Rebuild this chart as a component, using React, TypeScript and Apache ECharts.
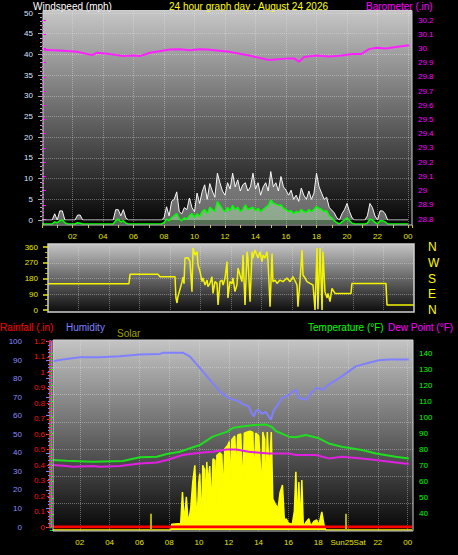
import React, { useEffect, useRef } from 'react';
import * as echarts from 'echarts';

const FONT = '"Liberation Sans", Arial, sans-serif';

// ---------- top panel: wind speed (mph), one value every 10 minutes from 00:00 ----------
const windStepHours = 1 / 6;
const windGust = [
  0, 0, 0, 0, 0, 1.5, 0, 2.2, 2.2, 0,
  0, 0, 0, 0, 1.2, 1.2, 0, 0, 0, 0,
  0, 0, 0, 0, 0, 0, 0, 0, 0, 2.5,
  2.5, 1, 2.5, 0.5, 0, 0, 0, 0, 0, 0,
  0, 0, 0, 0, 0, 0, 0, 0, 0.5, 3.2,
  1, 4.5, 5, 6.8, 2, 1.5, 3, 2.5, 5.3, 3,
  2, 6.5, 4, 6.8, 8.5, 5, 8.8, 7, 5.5, 11.3,
  9, 7, 6, 9, 7.5, 11.3, 8, 9.7, 7, 8.5,
  9, 7, 8, 11.3, 7.5, 9, 6, 8, 9, 7,
  11.7, 8, 9, 7, 10.5, 8, 7.2, 6, 7.2, 5,
  6, 4.5, 7.7, 6, 5, 7, 5, 6.5, 11.3, 8,
  6.5, 5, 5.5, 3, 2.4, 1.7, 0.5, 0, 1.5, 2.5,
  4, 2, 0.5, 0, 0, 0, 0, 0, 1, 4,
  3, 1, 0, 2.2, 2.2, 1.5, 0, 0, 0, 0,
  0, 0, 0, 0, 0,
];
const windAvg = [
  0, 0, 0, 0, 0, 0.5, 0.3, 0.8, 1, 0.3,
  0, 0, 0, 0, 0.3, 0.2, 0, 0, 0, 0,
  0, 0, 0, 0, 0, 0, 0, 0, 0, 0.8,
  1.2, 0.5, 0.8, 0.2, 0, 0, 0, 0, 0, 0,
  0, 0, 0, 0, 0, 0, 0, 0, 0.3, 1.2,
  0.8, 1.5, 2, 2.5, 1.2, 0.8, 1.5, 1.2, 2, 2.5,
  1.5, 2.5, 1.8, 3, 3.5, 2.5, 4, 3.5, 3, 5.4,
  4.5, 3.5, 3, 4, 3.2, 4.5, 3.5, 4, 3, 3.5,
  4.6, 3.5, 3.8, 4, 3.2, 3.8, 3, 3.5, 4, 4.5,
  5.8, 5, 4.8, 4.5, 4.6, 3.8, 3.5, 3, 3.2, 2.5,
  3, 2.8, 3.5, 3, 2.8, 3.5, 3, 3.5, 4.2, 3.8,
  3.5, 3, 3.2, 2, 1.5, 0.8, 0.3, 0, 0.5, 1,
  1.5, 0.8, 0.2, 0, 0, 0, 0, 0, 0.2, 1.2,
  1, 0.4, 0, 0.8, 0.8, 0.5, 0, 0, 0, 0,
  0, 0, 0, 0, 0,
];

// barometer (inHg)
const baroHours = [0.07, 1.38, 2.3, 3.28, 3.6, 4.46, 5.3, 5.97, 6.43, 7.08, 8.39, 9.05, 9.7, 10.36, 10.82, 12.26, 13.57, 14.89, 16.2, 16.52, 16.85, 17.18, 17.97, 18.82, 19.67, 20.33, 20.92, 21.44, 21.9, 22.56, 23.21, 24.07];
const baroValues = [29.99, 29.984, 29.977, 29.953, 29.97, 29.96, 29.946, 29.95, 29.946, 29.97, 29.993, 29.995, 29.988, 29.995, 29.993, 29.977, 29.95, 29.918, 29.93, 29.93, 29.906, 29.94, 29.95, 29.943, 29.95, 29.96, 29.96, 29.995, 30.005, 30.0, 30.01, 30.023];

// ---------- middle panel: wind direction (degrees) ----------
const dirHours = [0, 5.31, 5.38, 7.21, 7.34, 8.33, 8.39, 8.46, 8.52, 8.66, 8.79, 8.85, 8.92, 8.98, 9.18, 9.31, 9.44, 9.51, 9.64, 9.77, 9.84, 9.97, 10.1, 10.16, 10.3, 10.43, 10.49, 10.62, 10.75, 10.82, 10.95, 11.08, 11.15, 11.28, 11.41, 11.48, 11.61, 11.74, 11.8, 11.93, 12.07, 12.13, 12.26, 12.39, 12.46, 12.59, 12.72, 12.79, 12.92, 13.05, 13.11, 13.25, 13.38, 13.44, 13.57, 13.7, 13.77, 13.9, 14.03, 14.1, 14.23, 14.36, 14.43, 14.56, 14.69, 14.75, 14.89, 15.02, 15.21, 15.41, 15.67, 15.87, 16.07, 16.33, 16.39, 16.52, 16.66, 16.72, 16.85, 16.98, 17.18, 17.38, 17.51, 17.64, 17.7, 17.84, 17.97, 18.03, 18.16, 18.3, 18.36, 18.49, 18.62, 18.82, 19.87, 19.93, 22.16, 22.23, 24];
const dirValues = [150, 150, 205, 205, 190, 190, 69, 40, 76, 120, 162, 188, 150, 297, 299, 276, 105, 354, 314, 333, 257, 219, 162, 183, 143, 171, 133, 152, 190, 95, 162, 152, 29, 162, 171, 143, 183, 276, 69, 162, 150, 183, 105, 143, 240, 200, 162, 314, 29, 333, 297, 48, 333, 297, 343, 314, 297, 333, 276, 314, 297, 333, 276, 19, 323, 162, 171, 152, 171, 162, 183, 162, 190, 143, 19, 162, 343, 200, 183, 162, 152, 143, 0, 354, 5, 354, 0, 333, 105, 69, 95, 48, 124, 95, 95, 152, 152, 29, 29];
const dirRightLabels: Record<number, string> = { 0: 'N', 90: 'E', 180: 'S', 270: 'W', 360: 'N' };

// ---------- bottom panel ----------
const humHours = [0.19, 0.86, 2.0, 3.34, 4.68, 6.03, 7.37, 7.57, 8.91, 9.38, 10.05, 10.72, 11.4, 12.0, 12.67, 13.0, 13.34, 13.5, 13.68, 13.85, 14.01, 14.2, 14.48, 14.65, 14.82, 15.02, 15.3, 15.56, 16.0, 16.3, 16.5, 16.7, 17.17, 17.5, 17.9, 18.3, 18.71, 19.58, 20.52, 21.4, 22.07, 22.74, 24.08];
const humValues = [89.4, 90.3, 91.5, 91.5, 92, 93, 93.3, 93.9, 94, 92, 85.8, 79.5, 73, 69.5, 67.7, 66, 65, 62, 59.6, 63, 63, 61, 62, 60, 57.8, 63, 66, 69.5, 71, 73, 74, 69.5, 68.6, 72, 75, 74, 76.8, 81.2, 86.6, 88.5, 89.9, 90.3, 90.3];

const tempHours = [0.19, 1.1, 2.88, 4.89, 6.03, 7.17, 7.84, 8.71, 10.05, 10.92, 11.86, 12.3, 13.0, 13.7, 14.5, 14.9, 15.15, 16.03, 16.5, 17.17, 18.04, 18.71, 19.58, 20.93, 21.87, 23.2, 24.08];
const tempValues = [73.5, 73, 72.4, 72.9, 75.2, 75.5, 77.2, 78.6, 82.8, 88, 91, 93.5, 94.5, 95.2, 95.5, 94, 91.5, 88, 87.6, 89, 87, 83.8, 81.7, 79.7, 77.6, 75.5, 74.5];

const dewHours = [0.19, 1.1, 1.53, 2.88, 3.34, 4.68, 6.03, 7.17, 7.84, 8.91, 10.05, 10.92, 11.86, 12.5, 13.34, 14.68, 16.03, 16.5, 17.84, 18.71, 19.58, 20.93, 22.27, 23.2, 24.08];
const dewValues = [70.4, 69.8, 69.3, 69.8, 69.3, 69.8, 71.4, 72, 73.5, 76.6, 78, 78.6, 80, 80, 78.6, 77.6, 77.6, 76.6, 76.6, 74.5, 75.5, 74.5, 73, 72, 71];

const solarHours = [0.2, 8.11, 8.17, 8.77, 8.89, 9.01, 9.15, 9.28, 9.45, 9.58, 9.72, 9.85, 9.98, 10.05, 10.19, 10.25, 10.38, 10.45, 10.52, 10.59, 10.72, 10.83, 10.94, 11.07, 11.13, 11.2, 11.4, 11.53, 11.63, 11.73, 11.93, 12.03, 12.13, 12.2, 12.4, 12.5, 12.6, 12.8, 12.94, 13.04, 13.2, 13.41, 13.61, 13.7, 13.81, 14.01, 14.21, 14.28, 14.41, 14.47, 14.58, 14.72, 14.85, 14.95, 15.1, 15.3, 15.44, 15.6, 15.73, 15.85, 15.99, 16.26, 16.4, 16.5, 16.6, 16.7, 16.8, 16.9, 17.0, 17.17, 17.37, 17.5, 17.7, 17.9, 18.04, 18.24, 18.38, 18.5, 24.3];
const solarValues = [0, 0, 30, 35, 202, 40, 176, 30, 120, 255, 344, 20, 250, 300, 15, 344, 320, 60, 362, 250, 340, 120, 379, 370, 90, 397, 410, 400, 180, 432, 450, 470, 200, 480, 500, 300, 505, 510, 220, 515, 520, 525, 520, 250, 515, 500, 200, 521, 480, 150, 521, 300, 521, 166, 140, 113, 200, 239, 48, 60, 37, 30, 100, 309, 20, 255, 20, 266, 15, 40, 60, 20, 45, 53, 25, 96, 30, 0, 0];
const sunEventHours = [6.74, 19.85];
const sunEventLevel = 87;

const rainHours = [0.19, 24.3];
const rainValues = [0, 0];

const topHourLabels = ['02', '04', '06', '08', '10', '12', '14', '16', '18', '20', '22', '00'];
const bottomHourLabels = ['02', '04', '06', '08', '10', '12', '14', '16', '18', 'Sun25Sat', '22', '00'];

const zip = (xs: number[], ys: number[]) => xs.map((x, i) => [x, ys[i]]);
const hourFmt = (labels: string[]) => (v: number) => {
  const r = Math.round(v);
  if (Math.abs(v - r) > 1e-6 || r % 2 !== 0 || r < 2 || r > 24) return '';
  return labels[r / 2 - 1];
};
const decFmt = (v: number) => String(Math.round(v * 10) / 10);

const GRIDC = 'rgba(235,235,235,0.38)';
const grad = (a: string, b: string, c: string) => ({
  type: 'linear', x: 0, y: 0, x2: 0, y2: 1,
  colorStops: [{ offset: 0, color: a }, { offset: 0.5, color: b }, { offset: 1, color: c }],
});

function buildOption(): any {
  const hidden = (gridIndex: number, max: number) => ({ gridIndex, type: 'value', min: 0, max, show: false });
  const TOPMAX = 24.26;
  const BOTMAX = 24.36;
  return {
    backgroundColor: '#000',
    animation: false,
    textStyle: { fontFamily: FONT },
    grid: [
      { left: 42, width: 370, top: 11, height: 214 }, // 0 top frame
      { left: 42, width: 370, top: 13, height: 207 }, // 1 wind gust
      { left: 42, width: 370, top: 17, height: 207 }, // 2 wind avg
      { left: 42, width: 370, top: 20, height: 199 }, // 3 barometer
      { left: 48, width: 366, top: 247, height: 63 }, // 4 direction
      { left: 50, width: 363, top: 340, height: 191 }, // 5 bottom frame
      { left: 50, width: 363, top: 341.5, height: 185.5 }, // 6 humidity / rain
      { left: 50, width: 363, top: 353, height: 177 }, // 7 temp / dew
      { left: 50, width: 363, top: 340, height: 190 }, // 8 solar
    ],
    xAxis: [
      {
        gridIndex: 0, type: 'value', min: 0, max: TOPMAX, interval: 2,
        axisLine: { show: false },
        axisTick: { show: true, length: 3, lineStyle: { color: '#c8c800' } },
        minorTick: { show: true, splitNumber: 2, length: 3, lineStyle: { color: '#c8c800' } },
        axisLabel: { color: '#e4e400', fontSize: 8, margin: 7, formatter: hourFmt(topHourLabels), fontFamily: FONT },
        splitLine: { show: true, showMinLine: false, showMaxLine: false, lineStyle: { type: 'dotted', color: GRIDC } },
      },
      hidden(1, TOPMAX),
      hidden(2, TOPMAX),
      hidden(3, TOPMAX),
      {
        gridIndex: 4, type: 'value', min: 0, max: 24, interval: 2,
        axisLine: { show: false }, axisTick: { show: false }, axisLabel: { show: false },
        splitLine: { show: true, showMinLine: false, showMaxLine: false, lineStyle: { type: 'dotted', color: GRIDC } },
      },
      {
        gridIndex: 5, type: 'value', min: 0, max: BOTMAX, interval: 2,
        axisLine: { show: false }, axisTick: { show: false },
        axisLabel: { color: '#e4e400', fontSize: 8, margin: 7, formatter: hourFmt(bottomHourLabels), fontFamily: FONT },
        splitLine: { show: true, showMinLine: false, showMaxLine: false, lineStyle: { type: 'dotted', color: GRIDC } },
      },
      hidden(6, BOTMAX),
      hidden(7, BOTMAX),
      hidden(8, BOTMAX),
    ],
    yAxis: [
      { gridIndex: 0, type: 'value', min: 0, max: 1, show: false },
      {
        gridIndex: 1, type: 'value', min: 0, max: 50, interval: 5, position: 'left',
        axisLine: { show: false },
        axisTick: { show: true, length: 4, lineStyle: { color: '#a8a8a8' } },
        minorTick: { show: true, splitNumber: 5, length: 2, lineStyle: { color: '#a8a8a8' } },
        axisLabel: { color: '#d8e4ff', fontSize: 8, margin: 9, fontFamily: FONT },
        splitLine: { show: true, showMinLine: false, lineStyle: { type: 'dotted', color: GRIDC } },
      },
      { gridIndex: 2, type: 'value', min: 0, max: 50, show: false },
      {
        gridIndex: 3, type: 'value', min: 28.8, max: 30.2, interval: 0.1, position: 'right',
        axisLine: { show: false },
        axisTick: { show: true, length: 4, lineStyle: { color: '#ff00ff' } },
        minorTick: { show: true, splitNumber: 4, length: 2, lineStyle: { color: '#ff00ff' } },
        axisLabel: { color: '#ff00ff', fontSize: 8, margin: 6, formatter: decFmt, fontFamily: FONT },
        splitLine: { show: false },
      },
      {
        gridIndex: 4, type: 'value', min: 0, max: 360, interval: 90, position: 'left',
        axisLine: { show: false },
        axisTick: { show: true, length: 5, lineStyle: { color: '#b0b000', width: 2 } },
        minorTick: { show: true, splitNumber: 3, length: 3, lineStyle: { color: '#b0b000' } },
        axisLabel: { color: '#e8e800', fontSize: 8, margin: 10, fontFamily: FONT },
        splitLine: { show: true, showMinLine: false, showMaxLine: false, lineStyle: { type: 'dotted', color: GRIDC } },
      },
      {
        gridIndex: 4, type: 'value', min: 0, max: 360, interval: 90, position: 'right',
        axisLine: { show: false }, axisTick: { show: false }, splitLine: { show: false },
        axisLabel: { color: '#ffff00', fontSize: 12, margin: 14, fontFamily: FONT, formatter: (v: number) => dirRightLabels[v] ?? '' },
      },
      {
        gridIndex: 5, type: 'value', min: 0, max: 7, interval: 1,
        axisLine: { show: false }, axisTick: { show: false }, axisLabel: { show: false },
        splitLine: { show: true, showMinLine: false, showMaxLine: false, lineStyle: { type: 'dotted', color: GRIDC } },
      },
      {
        gridIndex: 6, type: 'value', min: 0, max: 100, interval: 10, position: 'left', offset: 20,
        axisLine: { show: true, lineStyle: { color: '#8080ff', width: 3 } },
        axisTick: { show: true, length: 4, lineStyle: { color: '#8080ff' } },
        minorTick: { show: true, splitNumber: 5, length: 2, lineStyle: { color: '#8080ff' } },
        axisLabel: { color: '#8c8cff', fontSize: 8, margin: 8, fontFamily: FONT },
        splitLine: { show: false },
      },
      {
        gridIndex: 6, type: 'value', min: 0, max: 1.2, interval: 0.1, position: 'left', offset: 0,
        axisLine: { show: true, lineStyle: { color: '#ff2020', width: 2, type: 'dotted' } },
        axisTick: { show: true, length: 3, lineStyle: { color: '#ff2020' } },
        minorTick: { show: false },
        axisLabel: { color: '#ff1010', fontSize: 8, margin: 5, formatter: decFmt, fontFamily: FONT },
        splitLine: { show: false },
      },
      {
        gridIndex: 7, type: 'value', min: 30, max: 140, interval: 10, position: 'right',
        axisLine: { show: false },
        axisTick: { show: true, length: 4, lineStyle: { color: '#00e000' } },
        minorTick: { show: true, splitNumber: 5, length: 2, lineStyle: { color: '#00e000' } },
        axisLabel: { color: '#00ff00', fontSize: 8, margin: 6, showMinLabel: false, fontFamily: FONT },
        splitLine: { show: false },
      },
      { gridIndex: 8, type: 'value', min: 0, max: 1010, show: false },
    ],
    graphic: [
      // plot backgrounds
      { type: 'rect', z: -10, silent: true, shape: { x: 43, y: 11, width: 369, height: 214 }, style: { fill: grad('#c6c6c6', '#646464', '#040404') } },
      { type: 'rect', z: -10, silent: true, shape: { x: 48, y: 244, width: 366, height: 68 }, style: { fill: grad('#c4c4c4', '#686868', '#0c0c0c') } },
      { type: 'rect', z: -10, silent: true, shape: { x: 53, y: 340, width: 360, height: 191 }, style: { fill: grad('#c4c4c4', '#666666', '#060606') } },
      // frames
      { type: 'rect', z: 50, silent: true, shape: { x: 43, y: 10.5, width: 369, height: 214.5 }, style: { fill: 'none', stroke: '#cfcfcf', lineWidth: 1 } },
      { type: 'rect', z: 50, silent: true, shape: { x: 48, y: 244, width: 366, height: 68 }, style: { fill: 'none', stroke: '#cfcfcf', lineWidth: 1.5 } },
      { type: 'rect', z: 50, silent: true, shape: { x: 53, y: 340, width: 360, height: 191 }, style: { fill: 'none', stroke: '#d4d4d4', lineWidth: 1 } },
      // titles
      { type: 'text', x: 33, y: 6, style: { text: 'Windspeed (mph)', fill: '#ffffff', font: `10px ${FONT}`, textVerticalAlign: 'middle' } },
      { type: 'text', x: 169, y: 6, style: { text: '24 hour graph day : August 24 2026', fill: '#ffff00', font: `10px ${FONT}`, textVerticalAlign: 'middle' } },
      { type: 'text', x: 366, y: 6, style: { text: 'Barometer (.in)', fill: '#ff00ff', font: `10px ${FONT}`, textVerticalAlign: 'middle' } },
      { type: 'text', x: 0, y: 327, style: { text: 'Rainfall (.in)', fill: '#ff0000', font: `10px ${FONT}`, textVerticalAlign: 'middle' } },
      { type: 'text', x: 66, y: 327, style: { text: 'Humidity', fill: '#8080ff', font: `10px ${FONT}`, textVerticalAlign: 'middle' } },
      { type: 'text', x: 117, y: 333, style: { text: 'Solar', fill: '#a0a000', font: `10px ${FONT}`, textVerticalAlign: 'middle' } },
      { type: 'text', x: 308, y: 327, style: { text: 'Temperature (°F)', fill: '#00ff00', font: `10px ${FONT}`, textVerticalAlign: 'middle' } },
      { type: 'text', x: 388, y: 327, style: { text: 'Dew Point (°F)', fill: '#ff00ff', font: `10px ${FONT}`, textVerticalAlign: 'middle' } },
    ],
    series: [
      {
        name: 'Wind gust', type: 'line', xAxisIndex: 1, yAxisIndex: 1, symbol: 'none',
        data: windGust.map((v, i) => [i * windStepHours, v]),
        lineStyle: { color: 'rgba(255,255,255,0.95)', width: 1 },
        areaStyle: { color: 'rgba(200,200,200,0.72)' },
      },
      {
        name: 'Wind speed', type: 'line', xAxisIndex: 2, yAxisIndex: 2, symbol: 'none',
        data: windAvg.map((v, i) => [i * windStepHours, v]),
        lineStyle: { color: '#00ff00', width: 1.5 },
        areaStyle: { color: 'rgba(190,255,190,0.6)' },
      },
      {
        name: 'Barometer', type: 'line', xAxisIndex: 3, yAxisIndex: 3, symbol: 'none',
        data: zip(baroHours, baroValues), lineStyle: { color: '#ff20ff', width: 2 },
      },
      {
        name: 'Wind direction', type: 'line', xAxisIndex: 4, yAxisIndex: 4, symbol: 'none',
        data: zip(dirHours, dirValues), lineStyle: { color: '#f4f400', width: 1.5 },
      },
      {
        name: 'Solar', type: 'line', xAxisIndex: 8, yAxisIndex: 10, symbol: 'none',
        data: zip(solarHours, solarValues),
        lineStyle: { color: '#ffff00', width: 1.5 },
        areaStyle: { color: '#ffff00', opacity: 1 },
        markLine: {
          silent: true, symbol: ['none', 'none'], label: { show: false },
          lineStyle: { color: '#b0b000', width: 2, type: 'solid' },
          data: sunEventHours.map((h) => [{ coord: [h, 0] }, { coord: [h, sunEventLevel] }]),
        },
      },
      {
        name: 'Rainfall', type: 'line', xAxisIndex: 6, yAxisIndex: 8, symbol: 'none',
        data: zip(rainHours, rainValues), lineStyle: { color: '#ff0000', width: 3 },
      },
      {
        name: 'Humidity', type: 'line', xAxisIndex: 6, yAxisIndex: 7, symbol: 'none',
        data: zip(humHours, humValues), lineStyle: { color: '#8080ff', width: 2 },
      },
      {
        name: 'Temperature', type: 'line', xAxisIndex: 7, yAxisIndex: 9, symbol: 'none',
        data: zip(tempHours, tempValues), lineStyle: { color: '#20dd20', width: 2 },
      },
      {
        name: 'Dew Point', type: 'line', xAxisIndex: 7, yAxisIndex: 9, symbol: 'none',
        data: zip(dewHours, dewValues), lineStyle: { color: '#e020e0', width: 2 },
      },
    ],
  };
}

export default function App() {
  const ref = useRef<HTMLDivElement>(null);
  useEffect(() => {
    if (!ref.current) return;
    const chart = echarts.init(ref.current, undefined, { renderer: 'svg' });
    chart.setOption(buildOption());
    return () => chart.dispose();
  }, []);
  return (
    <div
      ref={ref}
      style={{ position: 'fixed', left: 0, top: 0, width: 458, height: 555, background: '#000' }}
    />
  );
}
